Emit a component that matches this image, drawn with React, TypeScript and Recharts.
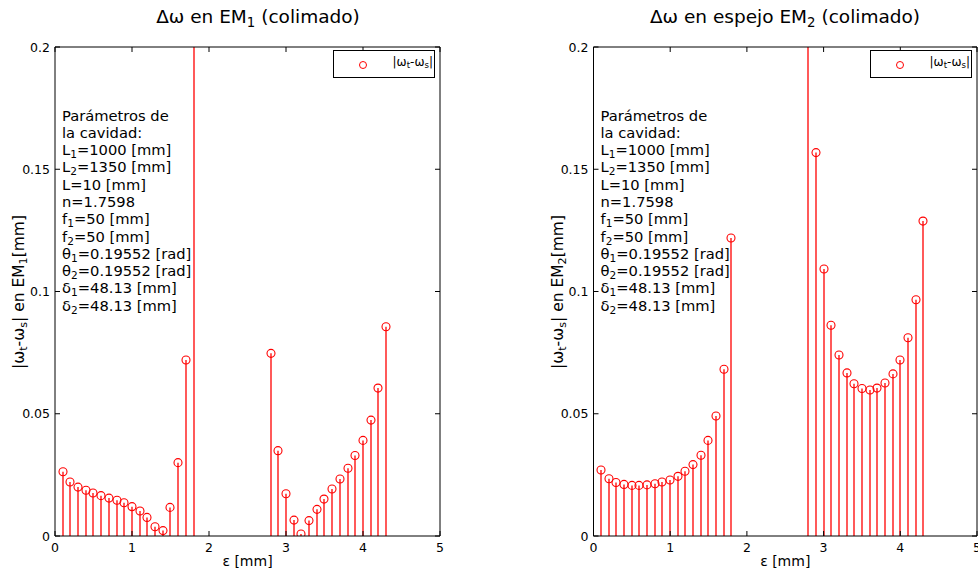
// Two stem plots: |ωt-ωs| versus ε for EM1 and EM2 (collimated cavity).

import { ComposedChart, Bar, XAxis, YAxis, Legend } from "recharts";

const EPS = [
  0.1, 0.2, 0.3, 0.4, 0.5, 0.6, 0.7, 0.8, 0.9, 1.0, 1.1, 1.2, 1.3, 1.4, 1.5, 1.6, 1.7, 1.8,
  2.8, 2.9, 3.0, 3.1, 3.2, 3.3, 3.4, 3.5, 3.6, 3.7, 3.8, 3.9, 4.0, 4.1, 4.2, 4.3,
];
const DW_EM1 = [
  0.0263, 0.0221, 0.02, 0.0187, 0.0176, 0.0165, 0.0155, 0.0146, 0.0136, 0.012, 0.0102, 0.0076, 0.0038, 0.0022, 0.0117, 0.03, 0.072, 0.5,
  0.0747, 0.0349, 0.0173, 0.0065, 0.0008, 0.0063, 0.0109, 0.0151, 0.0192, 0.0233, 0.0277, 0.0329, 0.0391, 0.0474, 0.0605, 0.0856,
];
const DW_EM2 = [
  0.027, 0.0234, 0.0219, 0.0211, 0.0207, 0.0207, 0.0209, 0.0214, 0.0221, 0.0229, 0.0244, 0.0265, 0.0292, 0.033, 0.0391, 0.0491, 0.0682, 0.1219,
  0.5, 0.1568, 0.1092, 0.0862, 0.074, 0.0667, 0.0623, 0.0603, 0.0597, 0.0605, 0.0626, 0.0663, 0.072, 0.0811, 0.0966, 0.1288,
];
const X_TICKS = [0, 1, 2, 3, 4, 5];
const Y_TICKS = [0, 0.05, 0.1, 0.15, 0.2];
// [symbol, subscript, rest]
const PARAMS: [string, string, string][] = [
  ["Parámetros de", "", ""],
  ["la cavidad:", "", ""],
  ["L", "1", "=1000 [mm]"],
  ["L", "2", "=1350 [mm]"],
  ["L=10 [mm]", "", ""],
  ["n=1.7598", "", ""],
  ["f", "1", "=50 [mm]"],
  ["f", "2", "=50 [mm]"],
  ["θ", "1", "=0.19552 [rad]"],
  ["θ", "2", "=0.19552 [rad]"],
  ["δ", "1", "=48.13 [mm]"],
  ["δ", "2", "=48.13 [mm]"],
];

const FONT = "'DejaVu Sans', sans-serif";
const RED = "#ff0000";
const PANEL_W = 489;
const H = 573;
const PLOT_TOP = 47;
const PLOT_BOTTOM = 536;

const Sub = ({ children }: { children: React.ReactNode }) => (
  <span style={{ fontSize: "0.72em", verticalAlign: "-0.28em", lineHeight: 0 }}>{children}</span>
);

function Stem(props: any) {
  const { x, y, width, height } = props;
  if (x == null || y == null) return null;
  // sit the stem on a pixel boundary so it spreads over two columns (soft red, like the original)
  const cx = Math.round(x + width / 2);
  return (
    <g>
      <line x1={cx} x2={cx} y1={y + height} y2={y} stroke={RED} strokeWidth={1.3} />
      <circle cx={cx} cy={y} r={4} fill="none" stroke={RED} strokeWidth={1.1} />
    </g>
  );
}

const fmtTick = (v: number) => String(v);

const BottomTick = ({ x, y, payload }: any) => (
  <g>
    <line x1={x} x2={x} y1={y} y2={y - 5} stroke="#000" />
    <text x={x} y={y + 16} textAnchor="middle" fontSize={12.5} fontFamily={FONT} fill="#000">{fmtTick(payload.value)}</text>
  </g>
);
const TopTick = ({ x, y }: any) => <line x1={x} x2={x} y1={y} y2={y + 5} stroke="#000" />;
const LeftTick = ({ x, y, payload }: any) => (
  <g>
    <line x1={x} x2={x + 5} y1={y} y2={y} stroke="#000" />
    <text x={x - 5} y={y + 4.5} textAnchor="end" fontSize={12.5} fontFamily={FONT} fill="#000">{fmtTick(payload.value)}</text>
  </g>
);
const RightTick = ({ x, y }: any) => <line x1={x} x2={x - 5} y1={y} y2={y} stroke="#000" />;

function LegendBox() {
  return (
    <div style={{ width: 102, height: 28, border: "1px solid #000", boxSizing: "border-box", position: "relative", background: "#fff", fontFamily: FONT }}>
      <svg width={20} height={20} style={{ position: "absolute", left: 19, top: 3.5 }}>
        <circle cx={10} cy={10} r={3.5} fill="none" stroke={RED} strokeWidth={1} />
      </svg>
      <div style={{ position: "absolute", right: 1, top: 4, fontSize: 12, lineHeight: "15px", whiteSpace: "nowrap" }}>
        |ω<Sub>t</Sub>-ω<Sub>s</Sub>|
      </div>
    </div>
  );
}

interface PanelProps {
  left: number;
  plotLeft: number;
  plotRight: number;
  titleCenter: number;
  title: React.ReactNode;
  mirror: string;
  values: number[];
}

function Panel({ left, plotLeft, plotRight, titleCenter, title, mirror, values }: PanelProps) {
  const rows = EPS.map((e, i) => ({ eps: e, dw: values[i] }));
  const mLeft = plotLeft - left;
  const mRight = left + PANEL_W - plotRight;
  const cx = (plotLeft + plotRight) / 2 - left;
  const cy = (PLOT_TOP + PLOT_BOTTOM) / 2;
  // axes are 1px thick; remove that from the margins so the plot box stays put
  return (
    <div style={{ position: "absolute", left, top: 0, width: PANEL_W, height: H }}>
      <ComposedChart
        width={PANEL_W}
        height={H}
        data={rows}
        margin={{ top: PLOT_TOP - 1, right: mRight - 1, bottom: H - PLOT_BOTTOM - 1, left: mLeft - 1 }}
      >
        <XAxis xAxisId="b" dataKey="eps" type="number" domain={[0, 5]} ticks={X_TICKS} interval={0}
          height={1} tickSize={0} tickMargin={0} tickLine={false} tick={BottomTick} axisLine={{ stroke: "#000" }} />
        <XAxis xAxisId="t" orientation="top" dataKey="eps" type="number" domain={[0, 5]} ticks={X_TICKS} interval={0}
          height={1} tickSize={0} tickMargin={0} tickLine={false} tick={TopTick} axisLine={{ stroke: "#000" }} />
        <YAxis yAxisId="l" type="number" domain={[0, 0.2]} ticks={Y_TICKS} interval={0} allowDataOverflow
          width={1} tickSize={0} tickMargin={0} tickLine={false} tick={LeftTick} axisLine={{ stroke: "#000" }} />
        <YAxis yAxisId="r" orientation="right" type="number" domain={[0, 0.2]} ticks={Y_TICKS} interval={0} allowDataOverflow
          width={1} tickSize={0} tickMargin={0} tickLine={false} tick={RightTick} axisLine={{ stroke: "#000" }} />
        <Legend
          layout="horizontal" verticalAlign="middle" align="center"
          content={() => <LegendBox />}
          wrapperStyle={{ position: "absolute", left: plotRight - left - 107, top: 50, width: 102, height: 28 }}
        />
        <Bar xAxisId="b" yAxisId="l" dataKey="dw" name="|ωt-ωs|" shape={Stem} isAnimationActive={false} />
      </ComposedChart>

      <div style={{ position: "absolute", left: titleCenter - left, top: 4, transform: "translateX(-50%)", fontFamily: FONT, fontSize: 18.5, lineHeight: "26px", whiteSpace: "nowrap" }}>
        {title}
      </div>
      <div style={{ position: "absolute", left: cx, top: 552, transform: "translateX(-50%)", fontFamily: FONT, fontSize: 14, lineHeight: "18px", whiteSpace: "nowrap" }}>
        ε [mm]
      </div>
      <div style={{ position: "absolute", left: mLeft - 36, top: cy, transform: "translate(-50%, -50%) rotate(-90deg)", fontFamily: FONT, fontSize: 15.5, lineHeight: "16px", whiteSpace: "nowrap" }}>
        |ω<Sub>t</Sub>-ω<Sub>s</Sub>| en EM<Sub>{mirror}</Sub>[mm]
      </div>
      <div style={{ position: "absolute", left: mLeft + 7, top: 106.5, fontFamily: FONT, fontSize: 14.7 }}>
        {PARAMS.map(([a, s, r], i) => (
          <div key={i} style={{ height: 17.3, lineHeight: "17.3px", whiteSpace: "nowrap" }}>
            {a}{s ? <Sub>{s}</Sub> : null}{r}
          </div>
        ))}
      </div>
    </div>
  );
}

export default function App() {
  return (
    <div style={{ position: "absolute", left: 0, top: 0, width: 978, height: H, background: "#fff", overflow: "hidden" }}>
      <Panel left={0} plotLeft={55} plotRight={440} titleCenter={258} mirror="1" values={DW_EM1}
        title={<>Δω en EM<Sub>1</Sub> (colimado)</>} />
      <Panel left={PANEL_W} plotLeft={593.5} plotRight={977} titleCenter={785} mirror="2" values={DW_EM2}
        title={<>Δω en espejo EM<Sub>2</Sub> (colimado)</>} />
    </div>
  );
}
